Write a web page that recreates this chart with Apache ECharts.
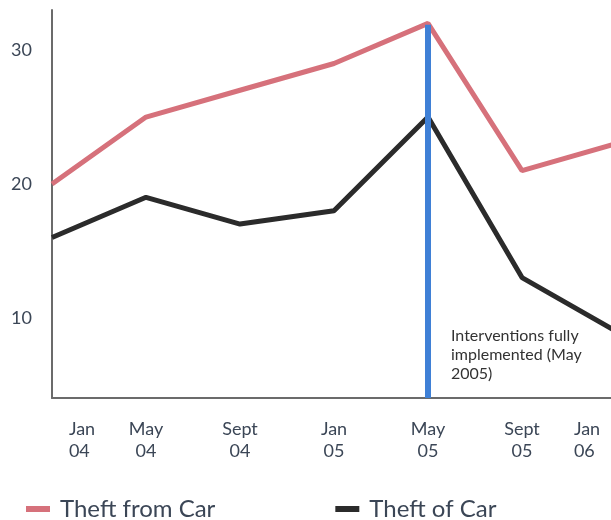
<!DOCTYPE html>
<html>
<head>
<meta charset="utf-8">
<style>
  html, body { margin: 0; padding: 0; background: #fff; }
  #chart { width: 611px; height: 520px; }
</style>
<script src="https://cdn.jsdelivr.net/npm/echarts@6/dist/echarts.min.js"></script>
</head>
<body>
<div id="chart"></div>
<script>
// months counted from Jan 04
const months = [0, 4, 8, 12, 16, 20, 24]
const tickLabels = ['Jan\n04', 'May\n04', 'Sept\n04', 'Jan\n05', 'May\n05', 'Sept\n05', 'Jan\n06']
const theftFromCar = [20, 25, 27, 29, 32, 21, 23]
const theftOfCar = [16, 19, 17, 18, 25, 13, 9]
const yTicks = [10, 20, 30]
const interventionMonth = 16
const interventionText = 'Interventions fully\nimplemented (May\n2005)'

const textColor = '#3b4656'
const font = 'Lato'

function pairs(vals) {
  return months.map((m, i) => [m, vals[i]])
}

const chart = echarts.init(document.getElementById('chart'))
chart.setOption({
  animation: false,
  textStyle: { fontFamily: font },
  grid: { left: 52, right: -5, top: 10, bottom: 122, outerBoundsMode: 'none', containLabel: false },
  legend: {
    data: ['Theft from Car', 'Theft of Car'],
    left: 26,
    top: 497,
    padding: 0,
    icon: 'rect',
    itemWidth: 24,
    itemHeight: 6,
    itemGap: 120,
    textStyle: { fontSize: 24, color: textColor, fontFamily: font, padding: [0, 0, 0, 5] }
  },
  xAxis: {
    type: 'value',
    min: 0,
    max: 24,
    splitLine: { show: false },
    axisTick: { show: false },
    axisLine: { onZero: false, lineStyle: { color: '#6b6b6b', width: 2 } },
    axisLabel: {
      customValues: months,
      margin: 20,
      fontSize: 18,
      lineHeight: 22,
      color: textColor,
      formatter: function (v) {
        const i = months.indexOf(v)
        const parts = tickLabels[i].split('\n')
        let style = 'm'
        if (i === 0) style = 'first'
        if (i === months.length - 1) style = 'last'
        return parts.map(p => '{' + style + '|' + p + '}').join('\n')
      },
      rich: {
        m: { fontSize: 18, lineHeight: 22, color: textColor, fontFamily: font },
        first: { fontSize: 18, lineHeight: 22, color: textColor, fontFamily: font, padding: [0, 0, 0, 60], align: 'left' },
        last: { fontSize: 18, lineHeight: 22, color: textColor, fontFamily: font, padding: [0, 58, 0, 0], align: 'left' }
      }
    }
  },
  yAxis: {
    type: 'value',
    min: 4,
    max: 33,
    splitLine: { show: false },
    axisTick: { show: false },
    axisLine: { show: true, lineStyle: { color: '#6b6b6b', width: 2 } },
    axisLabel: {
      customValues: yTicks,
      margin: 20,
      fontSize: 18,
      color: textColor
    }
  },
  series: [
    {
      name: 'Theft from Car',
      type: 'line',
      data: pairs(theftFromCar),
      symbol: 'none',
      z: 3,
      itemStyle: { color: '#d6717b' },
      lineStyle: { color: '#d6717b', width: 5 }
    },
    {
      name: 'Theft of Car',
      type: 'line',
      data: pairs(theftOfCar),
      symbol: 'none',
      z: 2,
      itemStyle: { color: '#2b2b2b' },
      lineStyle: { color: '#2b2b2b', width: 5 },
      markLine: {
        silent: true,
        symbol: 'none',
        z: 4,
        label: { show: false },
        lineStyle: { color: '#3f80d6', width: 6, type: 'solid' },
        data: [[
          { coord: [interventionMonth, 4] },
          { coord: [interventionMonth, 31.9] }
        ]]
      },
      markPoint: {
        silent: true,
        symbol: 'circle',
        symbolSize: 0,
        data: [{ coord: [interventionMonth, 7.2] }],
        label: {
          show: true,
          position: 'right',
          distance: 23,
          align: 'left',
          formatter: interventionText,
          fontSize: 16,
          lineHeight: 19,
          color: '#333',
          fontFamily: font
        }
      }
    }
  ]
})
</script>
</body>
</html>
